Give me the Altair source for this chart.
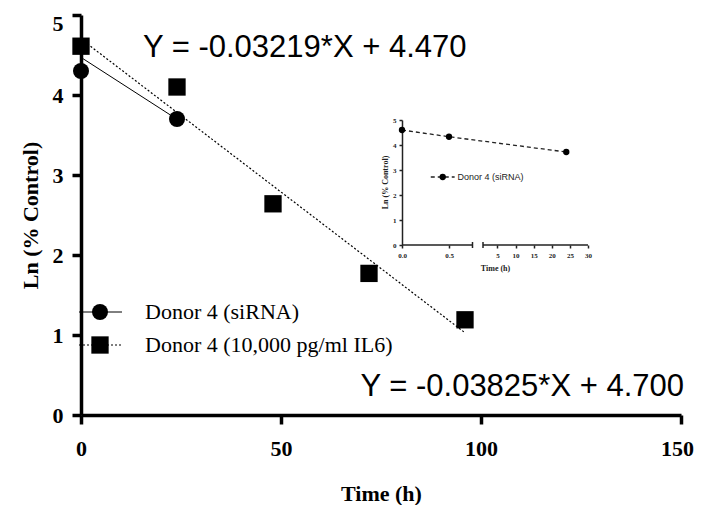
import altair as alt
import pandas as pd

# ---------------- main chart data ----------------
sirna_time = [0, 24]
sirna_ln = [4.30, 3.70]
il6_time = [0, 24, 48, 72, 96]
il6_ln = [4.61, 4.10, 2.64, 1.77, 1.19]

fit_sirna_time = [0, 24]
fit_sirna_ln = [4.470, 3.697]
fit_il6_time = [0, 96]
fit_il6_ln = [4.700, 1.028]

eq_labels = ["Y = -0.03219*X + 4.470", "Y = -0.03825*X + 4.700"]
legend_labels = ["Donor 4 (siRNA)", "Donor 4 (10,000 pg/ml IL6)"]

x_ticks = [0, 50, 100, 150]
y_ticks = [0, 1, 2, 3, 4, 5]

# ---------------- inset data ----------------
inset_time = [0, 0.5, 24]
inset_ln = [4.60, 4.33, 3.72]
inset_x_ticks = [0, 0.5, 5, 10, 15, 20, 25, 30]
inset_y_ticks = [0, 1, 2, 3, 4, 5]
inset_legend = ["Donor 4 (siRNA)"]

SERIF = "Liberation Serif"
SANS = "Liberation Sans"

# ---------------- main scales / axes ----------------
xs = alt.Scale(domain=[0, 150], nice=False, zero=False)
ys = alt.Scale(domain=[0, 5], nice=False, zero=False)

x_axis = alt.Axis(values=x_ticks, title="Time (h)", grid=False,
                  domainWidth=3.5, domainColor="black", tickWidth=3.5,
                  tickSize=9, tickColor="black", labelFont=SERIF,
                  labelFontWeight="bold", labelFontSize=22, labelPadding=14,
                  labelOffset={"condition": {"test": "datum.value == 150", "value": -4}, "value": 0},
                  labelColor="black", labelFlush=False, labelOverlap=False,
                  titleFont=SERIF, titleFontSize=22, titleFontWeight="bold",
                  titleColor="black", titleX=300, titleY=78,
                  titleBaseline="middle", titleAlign="center")
y_axis = alt.Axis(values=y_ticks, title="Ln (% Control)", grid=False,
                  domainWidth=3.5, domainColor="black", tickWidth=3.5,
                  tickSize=9, tickColor="black", labelFont=SERIF,
                  labelFontWeight="bold", labelFontSize=22, labelPadding=9,
                  labelOffset={"condition": {"test": "datum.value == 5", "value": 8}, "value": 0},
                  labelColor="black", labelFlush=False, labelOverlap=False,
                  titleFont=SERIF, titleFontSize=22, titleFontWeight="bold",
                  titleColor="black", titleX=-51, titleY=200,
                  titleBaseline="middle", titleAlign="center", titleAngle=-90)

def X(field="t"):
    return alt.X(f"{field}:Q", scale=xs, axis=x_axis)

def Y(field="v"):
    return alt.Y(f"{field}:Q", scale=ys, axis=y_axis)

sirna_df = pd.DataFrame({"t": sirna_time, "v": sirna_ln})
il6_df = pd.DataFrame({"t": il6_time, "v": il6_ln})
fit_s_df = pd.DataFrame({"t": fit_sirna_time, "v": fit_sirna_ln})
fit_i_df = pd.DataFrame({"t": fit_il6_time, "v": fit_il6_ln})

fit_s = alt.Chart(fit_s_df).mark_line(color="black", strokeWidth=1).encode(x=X(), y=Y())
fit_i = alt.Chart(fit_i_df).mark_line(color="black", strokeWidth=1.2, strokeDash=[2, 2]).encode(x=X(), y=Y())
pts_s = alt.Chart(sirna_df).mark_point(shape="circle", filled=True, size=256, color="black", opacity=1).encode(x=X(), y=Y())
pts_i = alt.Chart(il6_df).mark_point(shape="square", filled=True, size=300, color="black", opacity=1).encode(x=X(), y=Y())

eq_df = pd.DataFrame({"t": [15.5, 150.75], "v": [4.475, 0.2375], "label": eq_labels})
eq1 = alt.Chart(eq_df.iloc[[0]]).mark_text(font=SANS, fontSize=31, align="left",
                                           baseline="alphabetic", color="black").encode(x=X(), y=Y(), text="label:N")
eq2 = alt.Chart(eq_df.iloc[[1]]).mark_text(font=SANS, fontSize=31, align="right",
                                           baseline="alphabetic", color="black").encode(x=X(), y=Y(), text="label:N")

# manual legend (main)
leg_y = [1.2875, 0.875]
leg_line_df = pd.DataFrame({"t": [-0.5, -0.5], "t2": [10.25, 10.25], "v": leg_y})
leg_line_s = alt.Chart(leg_line_df.iloc[[0]]).mark_rule(color="black", strokeWidth=1).encode(
    x=X(), x2="t2:Q", y=Y())
leg_line_i = alt.Chart(leg_line_df.iloc[[1]]).mark_rule(color="black", strokeWidth=1.2, strokeDash=[2, 2]).encode(
    x=X(), x2="t2:Q", y=Y())
leg_sym_df = pd.DataFrame({"t": [4.75, 4.75], "v": leg_y})
leg_c = alt.Chart(leg_sym_df.iloc[[0]]).mark_point(shape="circle", filled=True, size=256, color="black", opacity=1).encode(x=X(), y=Y())
leg_s = alt.Chart(leg_sym_df.iloc[[1]]).mark_point(shape="square", filled=True, size=300, color="black", opacity=1).encode(x=X(), y=Y())
leg_txt_df = pd.DataFrame({"t": [16.0, 16.0], "v": leg_y, "label": legend_labels})
leg_txt = alt.Chart(leg_txt_df).mark_text(font=SERIF, fontSize=22, align="left", baseline="middle",
                                          color="black").encode(x=X(), y=Y(), text="label:N")

main = alt.layer(fit_s, fit_i, pts_s, pts_i, eq1, eq2, leg_line_s, leg_line_i,
                 leg_c, leg_s, leg_txt)

# ---------------- inset ----------------
ixs = alt.Scale(domain=[0, 0.75, 1, 30], range=[321, 391.5, 402, 507], nice=False, zero=False)
iys = alt.Scale(domain=[0, 5], range=[230, 105], nice=False, zero=False)

ix_axis = alt.Axis(values=inset_x_ticks, orient="bottom", offset=-170, domain=False,
                   grid=False, tickSize=3, tickWidth=1.5, tickColor="#222",
                   labelExpr="datum.value < 1 ? format(datum.value, '.1f') : format(datum.value, 'd')",
                   labelFont=SERIF, labelFontWeight="bold", labelFontSize=7,
                   labelPadding=3, labelColor="#222", labelFlush=False, labelOverlap=False,
                   title="Time (h)", titleFont=SERIF, titleFontWeight="bold",
                   titleFontSize=8, titleColor="#222", titleX=414, titleY=23,
                   titleBaseline="middle", titleAlign="center")
iy_axis = alt.Axis(values=inset_y_ticks, orient="left", offset=-321, grid=False,
                   domainWidth=1.5, domainColor="#222", tickSize=3, tickWidth=1.5,
                   tickColor="#222", labelFont=SERIF, labelFontWeight="bold",
                   labelFontSize=7, labelPadding=3, labelColor="#222",
                   labelFlush=False, labelOverlap=False,
                   title="Ln (% Control)", titleFont=SERIF, titleFontWeight="bold",
                   titleFontSize=8, titleColor="#222", titleX=-17, titleY=167,
                   titleBaseline="middle", titleAlign="center", titleAngle=-90)

def IX(field="t"):
    return alt.X(f"{field}:Q", scale=ixs, axis=ix_axis)

def IY(field="v"):
    return alt.Y(f"{field}:Q", scale=iys, axis=iy_axis)

inset_df = pd.DataFrame({"t": inset_time, "v": inset_ln})
i_line = alt.Chart(inset_df).mark_line(color="#222", strokeWidth=1.3, strokeDash=[4, 3]).encode(x=IX(), y=IY())
i_pts = alt.Chart(inset_df).mark_point(shape="circle", filled=True, size=40, color="black", opacity=1).encode(x=IX(), y=IY())

i_axis_df = pd.DataFrame({"t": [0, 1], "t2": [0.75, 30], "v": [0, 0]})
i_axis_line = alt.Chart(i_axis_df).mark_rule(color="#222", strokeWidth=1.5).encode(x=IX(), x2="t2:Q", y=IY())
i_break_df = pd.DataFrame({"t": [0.75, 1], "v": [-0.12, -0.12], "v2": [0.12, 0.12]})
i_break = alt.Chart(i_break_df).mark_rule(color="#222", strokeWidth=1.5).encode(x=IX(), y=IY(), y2="v2:Q")

i_leg_line_df = pd.DataFrame({"t": [0.306], "t2": [0.56], "v": [2.72]})
i_leg_line = alt.Chart(i_leg_line_df).mark_rule(color="#222", strokeWidth=1.3, strokeDash=[4, 3]).encode(
    x=IX(), x2="t2:Q", y=IY())
i_leg_sym = alt.Chart(pd.DataFrame({"t": [0.433], "v": [2.72]})).mark_point(
    shape="circle", filled=True, size=40, color="black", opacity=1).encode(x=IX(), y=IY())
i_leg_txt = alt.Chart(pd.DataFrame({"t": [0.59], "v": [2.72], "label": inset_legend})).mark_text(
    font=SANS, fontSize=9, align="left", baseline="middle", color="#222").encode(
    x=IX(), y=IY(), text="label:N")

inset = alt.layer(i_axis_line, i_break, i_line, i_pts, i_leg_line, i_leg_sym, i_leg_txt)

chart = alt.layer(main, inset).resolve_scale(x="independent", y="independent").properties(
    width=600, height=400,
    autosize=alt.AutoSizeParams(type="none"),
    padding={"left": 73, "top": 7, "right": 14, "bottom": 90},
    background="white",
).configure_view(stroke=None)

chart.save("out.html", embed_options={"renderer": "svg", "actions": False})
